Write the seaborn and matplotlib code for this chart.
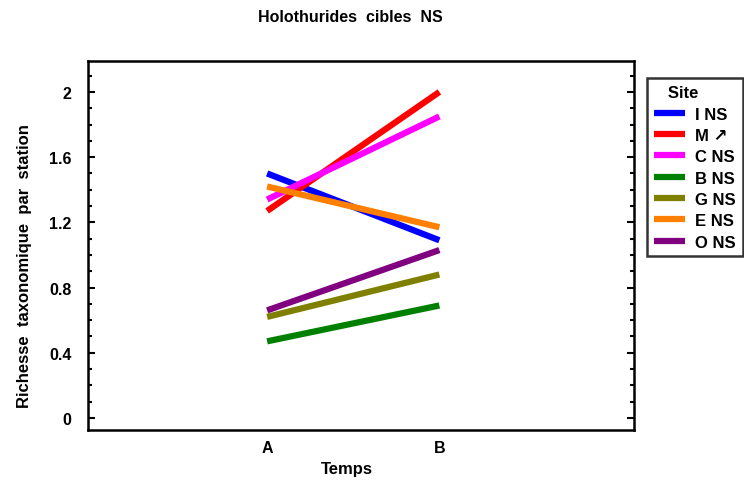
import matplotlib
matplotlib.use("Agg")
import matplotlib.pyplot as plt
import seaborn as sns
import pandas as pd
from matplotlib.ticker import MultipleLocator

temps = ["A", "B"]
sites = ["I NS", "M \u2197", "C NS", "B NS", "G NS", "E NS", "O NS"]
vals_A = [1.50, 1.27, 1.34, 0.47, 0.62, 1.42, 0.66]
vals_B = [1.09, 2.00, 1.85, 0.69, 0.88, 1.17, 1.03]
colors = ["#0000ff", "#ff0000", "#ff00ff", "#008000", "#808000", "#ff8000", "#800080"]

rows = []
for s, a, b in zip(sites, vals_A, vals_B):
    rows.append({"Temps": 1, "val": a, "Site": s})
    rows.append({"Temps": 2, "val": b, "Site": s})
df = pd.DataFrame(rows)

sns.set_style("white")
plt.rcParams["font.family"] = ["Liberation Sans", "DejaVu Sans"]
plt.rcParams["font.weight"] = "bold"
plt.rcParams["text.color"] = "black"
plt.rcParams["axes.labelcolor"] = "black"
plt.rcParams["xtick.color"] = "black"
plt.rcParams["ytick.color"] = "black"

fig = plt.figure(figsize=(7.44, 4.81), dpi=100)
ax = fig.add_axes([88/744, 1-431/481, (634-88)/744, (431-62)/481])
sns.lineplot(data=df, x="Temps", y="val", hue="Site", palette=colors,
             hue_order=sites, linewidth=4.5, ax=ax, legend=True)
for ln in ax.lines:
    ln.set_solid_capstyle("butt")

ax.set_xlim(-0.04, 3.13)
ax.set_ylim(-0.074, 2.19)
ax.set_xticks([1, 2])
ax.set_xticklabels(temps, fontsize=11.5, fontweight="bold")
ax.yaxis.set_minor_locator(MultipleLocator(0.1))
ax.set_yticks([0, 0.4, 0.8, 1.2, 1.6, 2.0])
ax.set_yticklabels(["0", "0.4", "0.8", "1.2", "1.6", "2"], fontsize=11.5, fontweight="bold")
ax.tick_params(axis="x", length=0, pad=7)
ax.tick_params(axis="y", which="major", direction="in", length=5, width=1.5,
               left=True, right=True, pad=12)
ax.tick_params(axis="y", which="minor", direction="in", length=3, width=1.5,
               left=True, right=True)
for sp in ax.spines.values():
    sp.set_linewidth(1.8)
    sp.set_color("black")

ax.set_xlabel("")
ax.set_ylabel("Richesse  taxonomique  par  station", fontsize=12, fontweight="bold")
ax.yaxis.set_label_coords(-0.102, 0.447)
fig.text(347/744, 1-470/481, "Temps", ha="center", va="center",
         fontsize=12, fontweight="bold")
fig.text(350/744, 1-17/481, "Holothurides  cibles  NS", ha="center", va="center",
         fontsize=11.5, fontweight="bold")

leg = ax.legend(title="   Site", loc="upper left", bbox_to_anchor=(647/744, 1-79/481),
                bbox_transform=fig.transFigure, frameon=True, fancybox=False,
                borderpad=0.4, borderaxespad=0, handlelength=1.9, handletextpad=0.6,
                labelspacing=0.38, fontsize=12,
                title_fontproperties={"weight": "bold", "size": 12})
leg._legend_box.align = "left"
leg._legend_box.sep = 5
leg.get_frame().set_edgecolor("black")
leg.get_frame().set_linewidth(1.8)
for t in leg.get_texts():
    t.set_fontweight("bold")
for h in leg.legend_handles:
    h.set_linewidth(4.5)

fig.savefig("out.png", dpi=100)
